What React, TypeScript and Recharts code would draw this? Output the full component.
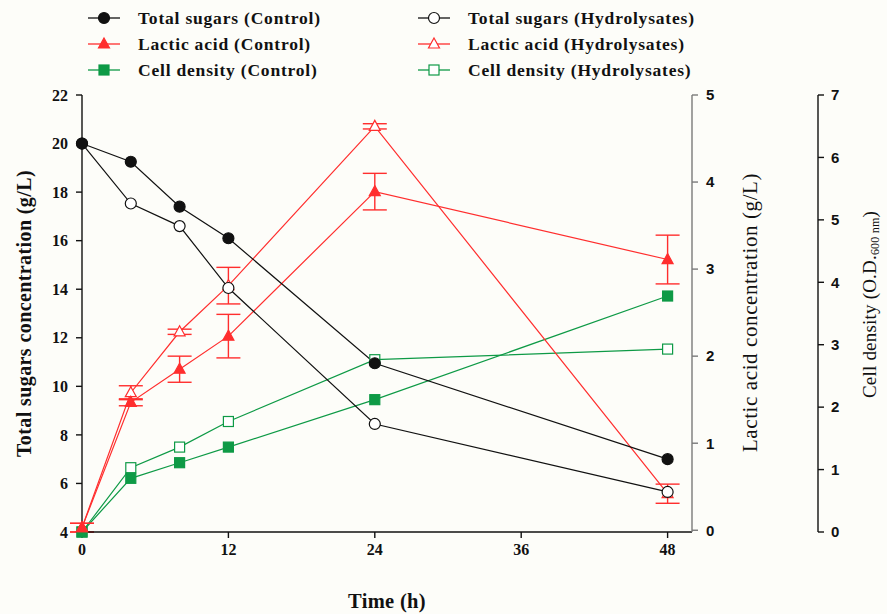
import React from "react";
import { ComposedChart, Line, XAxis, YAxis, ErrorBar, Legend } from "recharts";

// sampling times (h)
const time = [0, 4, 8, 12, 24, 48];

// total sugars (g/L), left axis
const sugarControl = [20, 19.25, 17.4, 16.1, 10.95, 7.0];
const sugarHydro = [20, 17.53, 16.6, 14.05, 8.45, 5.65];

// lactic acid (g/L), first right axis
const lacticControl = [0.03, 1.47, 1.85, 2.23, 3.89, 3.11];
const lacticControlErr = [0.05, 0.04, 0.15, 0.25, 0.21, 0.28];
const lacticHydro = [0.03, 1.58, 2.28, 2.81, 4.64, 0.42];
const lacticHydroErr = [0.05, 0.08, 0.03, 0.21, 0.03, 0.11];

// cell density (OD600), second right axis
const odControl = [0, 0.86, 1.11, 1.36, 2.12, 3.78];
const odHydro = [0, 1.03, 1.36, 1.77, 2.76, 2.93];

const xTicks = [0, 12, 24, 36, 48];
const sugarTicks = [4, 6, 8, 10, 12, 14, 16, 18, 20, 22];
const lacticTicks = [0, 1, 2, 3, 4, 5];
const odTicks = [0, 1, 2, 3, 4, 5, 6, 7];

const data = time.map((t, i) => ({
  time: t,
  sugarC: sugarControl[i],
  sugarH: sugarHydro[i],
  lacticC: lacticControl[i],
  lacticCErr: lacticControlErr[i],
  lacticH: lacticHydro[i],
  lacticHErr: lacticHydroErr[i],
  odC: odControl[i],
  odH: odHydro[i],
}));

const BLACK = "#111111";
const RED = "#ff2e2e";
const GREEN = "#0e9a46";
const SERIF = "'Liberation Serif', 'Times New Roman', serif";
const SANS = "'Liberation Sans', Arial, sans-serif";

type Kind = "circle" | "triangle" | "square";

const Mark = ({ kind, cx, cy, color, filled }: { kind: Kind; cx: number; cy: number; color: string; filled: boolean }) => {
  const fill = filled ? color : "#ffffff";
  if (kind === "circle") return <circle cx={cx} cy={cy} r={5.5} fill={fill} stroke={color} strokeWidth={1.2} />;
  if (kind === "square")
    return <rect x={cx - 5} y={cy - 5} width={10} height={10} fill={fill} stroke={color} strokeWidth={1.2} />;
  return (
    <path
      d={`M${cx},${cy - 6} L${cx + 5.5},${cy + 4} L${cx - 5.5},${cy + 4} Z`}
      fill={fill}
      stroke={color}
      strokeWidth={1.2}
    />
  );
};

const dotFor = (kind: Kind, color: string, filled: boolean) => (p: any) => (
  <Mark key={`${p.dataKey}-${p.index}`} kind={kind} cx={p.cx} cy={p.cy} color={color} filled={filled} />
);

const legendItems: { label: string; kind: Kind; color: string; filled: boolean }[] = [
  { label: "Total sugars (Control)", kind: "circle", color: BLACK, filled: true },
  { label: "Lactic acid (Control)", kind: "triangle", color: RED, filled: true },
  { label: "Cell density (Control)", kind: "square", color: GREEN, filled: true },
  { label: "Total sugars (Hydrolysates)", kind: "circle", color: BLACK, filled: false },
  { label: "Lactic acid (Hydrolysates)", kind: "triangle", color: RED, filled: false },
  { label: "Cell density (Hydrolysates)", kind: "square", color: GREEN, filled: false },
];

const renderLegend = () => (
  <svg width={887} height={85}>
    {legendItems.map((it, i) => {
      const col = Math.floor(i / 3);
      const row = i % 3;
      const x0 = col === 0 ? 88 : 418;
      const cy = 18 + row * 26;
      return (
        <g key={it.label}>
          <line x1={x0} x2={x0 + 32} y1={cy} y2={cy} stroke={it.color} strokeWidth={1.3} />
          <Mark kind={it.kind} cx={x0 + 16} cy={cy} color={it.color} filled={it.filled} />
          <text x={x0 + 50} y={cy} dominantBaseline="central" fontFamily={SERIF} fontWeight="bold" fontSize={17.5} letterSpacing={0.8} fill="#111">
            {it.label}
          </text>
        </g>
      );
    })}
  </svg>
);

const leftTitle = (props: any) => {
  const { x, y, height } = props.viewBox;
  const cx = x + 24;
  const cy = y + height / 2;
  return (
    <text x={cx} y={cy} transform={`rotate(-90, ${cx}, ${cy})`} textAnchor="middle" dominantBaseline="central" fontFamily={SERIF} fontWeight="bold" fontSize={20} letterSpacing={0.4} fill="#111">
      Total sugars concentration (g/L)
    </text>
  );
};

const lacticTitle = (props: any) => {
  const { x, y, height } = props.viewBox;
  const cx = x + 58;
  const cy = y + height / 2 - 1;
  return (
    <text x={cx} y={cy} transform={`rotate(-90, ${cx}, ${cy})`} textAnchor="middle" dominantBaseline="central" fontFamily={SERIF} fontSize={21} letterSpacing={0.6} fill="#111">
      Lactic acid concentration (g/L)
    </text>
  );
};

const odTitle = (props: any) => {
  const { x, y, height } = props.viewBox;
  const cx = x + 51;
  const cy = y + height / 2 - 9;
  return (
    <text x={cx} y={cy} transform={`rotate(-90, ${cx}, ${cy})`} textAnchor="middle" dominantBaseline="central" fontFamily={SERIF} fontSize={19} letterSpacing={0.2} fill="#111">
      Cell density (O.D.
      <tspan fontSize={12} dy={6}>600 nm</tspan>
      <tspan dy={-6}>)</tspan>
    </text>
  );
};

const timeTitle = (props: any) => {
  const { x, y, width } = props.viewBox;
  return (
    <text x={x + width / 2} y={y + 69} textAnchor="middle" dominantBaseline="central" fontFamily={SERIF} fontWeight="bold" fontSize={20.5} letterSpacing={0.3} fill="#111">
      Time (h)
    </text>
  );
};

const serifTick = { fontFamily: SERIF, fontWeight: "bold", fontSize: 16, fill: "#111" };
const sansTick = { fontFamily: SANS, fontWeight: "bold", fontSize: 15, fill: "#111" };

export default function App() {
  return (
    <div style={{ position: "absolute", left: 0, top: 0, width: 887, height: 614, background: "#fdfdf9" }}>
      <ComposedChart width={887} height={614} data={data} margin={{ top: 95, right: 0, bottom: 0, left: 0 }}>
        <XAxis
          dataKey="time"
          type="number"
          domain={[0, 50]}
          ticks={xTicks}
          height={82}
          tickSize={6}
          tickMargin={6}
          tick={serifTick}
          stroke={BLACK}
          strokeWidth={1.4}
          label={timeTitle}
        />
        <YAxis
          yAxisId="sugar"
          orientation="left"
          domain={[4, 22]}
          ticks={sugarTicks}
          width={82}
          tickSize={6}
          tickMargin={8}
          tick={serifTick}
          stroke={BLACK}
          strokeWidth={1.4}
          label={leftTitle}
        />
        <YAxis
          yAxisId="lactic"
          orientation="right"
          domain={[0, 5]}
          ticks={lacticTicks}
          width={126}
          tickSize={6}
          tickMargin={8}
          tick={sansTick}
          stroke="#7a7a7a"
          strokeWidth={1.4}
          label={lacticTitle}
        />
        <YAxis
          yAxisId="od"
          orientation="right"
          domain={[0, 7]}
          ticks={odTicks}
          width={69}
          tickSize={6}
          tickMargin={7}
          tick={sansTick}
          stroke={BLACK}
          strokeWidth={1.4}
          label={odTitle}
        />
        <Legend verticalAlign="middle" align="center" layout="horizontal" wrapperStyle={{ top: 0, left: 0, width: 887, height: 85 }} content={renderLegend} />

        <Line yAxisId="od" dataKey="odH" stroke={GREEN} strokeWidth={1.2} dot={dotFor("square", GREEN, false)} isAnimationActive={false} />
        <Line yAxisId="od" dataKey="odC" stroke={GREEN} strokeWidth={1.2} dot={dotFor("square", GREEN, true)} isAnimationActive={false} />
        <Line yAxisId="lactic" dataKey="lacticH" stroke={RED} strokeWidth={1.2} dot={dotFor("triangle", RED, false)} isAnimationActive={false}>
          <ErrorBar dataKey="lacticHErr" width={12} stroke={RED} strokeWidth={1.4} direction="y" />
        </Line>
        <Line yAxisId="lactic" dataKey="lacticC" stroke={RED} strokeWidth={1.2} dot={dotFor("triangle", RED, true)} isAnimationActive={false}>
          <ErrorBar dataKey="lacticCErr" width={12} stroke={RED} strokeWidth={1.4} direction="y" />
        </Line>
        <Line yAxisId="sugar" dataKey="sugarH" stroke={BLACK} strokeWidth={1.2} dot={dotFor("circle", BLACK, false)} isAnimationActive={false} />
        <Line yAxisId="sugar" dataKey="sugarC" stroke={BLACK} strokeWidth={1.2} dot={dotFor("circle", BLACK, true)} isAnimationActive={false} />
      </ComposedChart>
    </div>
  );
}
